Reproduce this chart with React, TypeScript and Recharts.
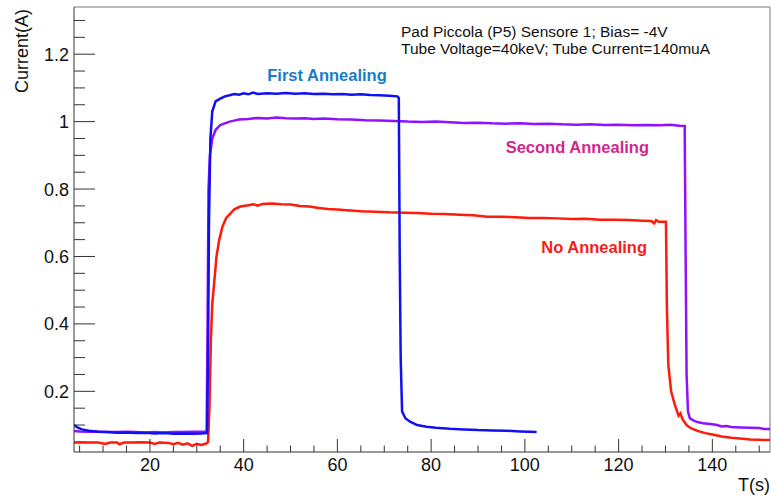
import { ComposedChart, Line, XAxis, YAxis, ReferenceLine } from 'recharts'

// [time (s), current (A)]
const firstAnnealing: [number, number][] = [
  [3.8, 0.1], [4.5, 0.093], [5.5, 0.087], [7, 0.083], [9, 0.08], [11, 0.079], [13, 0.077],
  [15, 0.078], [17, 0.076], [19, 0.077], [21, 0.075], [23, 0.076], [25, 0.074], [27, 0.075],
  [29, 0.074], [31, 0.075], [32.2, 0.076], [32.4, 0.3], [32.6, 0.7], [32.9, 0.95], [33.3, 1.03],
  [34, 1.06], [35, 1.068], [36, 1.075], [37, 1.078], [38, 1.082], [39, 1.08], [40, 1.084],
  [41, 1.081], [42, 1.086], [43, 1.082], [45, 1.084], [47, 1.083], [49, 1.085], [51, 1.083],
  [53, 1.084], [55, 1.082], [57, 1.083], [59, 1.081], [61, 1.082], [63, 1.08], [65, 1.081],
  [67, 1.079], [69, 1.078], [71, 1.077], [72.8, 1.075], [73.1, 1.07], [73.3, 0.6], [73.5, 0.3],
  [73.8, 0.14], [74.5, 0.12], [75.5, 0.11], [77, 0.1], [79, 0.095], [81, 0.092], [84, 0.089],
  [87, 0.087], [90, 0.085], [93, 0.084], [96, 0.083], [99, 0.081], [101, 0.08], [102.5, 0.079],
]

const secondAnnealing: [number, number][] = [
  [3.8, 0.082], [5, 0.081], [7, 0.08], [9, 0.08], [11, 0.079], [13, 0.079], [15, 0.08],
  [17, 0.079], [19, 0.078], [21, 0.079], [23, 0.078], [25, 0.079], [27, 0.079], [29, 0.08],
  [31, 0.08], [32.1, 0.081], [32.3, 0.4], [32.5, 0.8], [32.8, 0.9], [33.3, 0.95], [34, 0.975],
  [35, 0.99], [36, 0.995], [37, 1.0], [38, 1.003], [39, 1.006], [41, 1.008], [43, 1.011],
  [45, 1.009], [47, 1.012], [49, 1.01], [51, 1.009], [53, 1.01], [55, 1.008], [57, 1.009],
  [60, 1.007], [63, 1.006], [66, 1.004], [69, 1.003], [72, 1.002], [75, 1.0], [78, 0.999],
  [81, 1.0], [84, 0.998], [87, 0.996], [90, 0.997], [93, 0.995], [96, 0.994], [99, 0.995],
  [102, 0.993], [105, 0.994], [108, 0.992], [111, 0.991], [114, 0.992], [117, 0.99],
  [120, 0.991], [123, 0.989], [126, 0.99], [129, 0.989], [131, 0.991], [133, 0.988],
  [134.1, 0.987], [134.3, 0.6], [134.5, 0.25], [134.8, 0.14], [135.2, 0.12], [136, 0.113],
  [137, 0.108], [138, 0.105], [139, 0.104], [140, 0.102], [141, 0.1], [142, 0.096],
  [143, 0.097], [144, 0.094], [146, 0.093], [148, 0.092], [150, 0.091], [151, 0.088], [153, 0.088],
]

const noAnnealing: [number, number][] = [
  [3.8, 0.048], [5, 0.049], [7, 0.048], [9, 0.048], [10.5, 0.044], [11.5, 0.048], [13, 0.048],
  [13.5, 0.043], [14.5, 0.048], [16, 0.048], [18, 0.049], [20, 0.048], [21, 0.044], [22, 0.048],
  [24, 0.047], [25, 0.043], [26, 0.047], [27, 0.042], [28, 0.046], [29, 0.038], [30, 0.044],
  [31, 0.041], [32, 0.045], [32.4, 0.05], [32.7, 0.15], [33, 0.35], [33.3, 0.46], [33.7, 0.52],
  [34.2, 0.6], [34.8, 0.65], [35.5, 0.69], [36.3, 0.715], [37.2, 0.728], [38, 0.74],
  [39.3, 0.748], [41, 0.752], [42, 0.755], [43, 0.751], [44, 0.756], [46, 0.757], [48, 0.755],
  [50, 0.754], [52, 0.75], [54, 0.748], [56, 0.744], [58, 0.741], [60, 0.739], [62, 0.737],
  [65, 0.734], [68, 0.733], [71, 0.731], [74, 0.73], [77, 0.729], [80, 0.727], [83, 0.726],
  [86, 0.724], [89, 0.722], [92, 0.718], [95, 0.718], [98, 0.716], [101, 0.714], [104, 0.714],
  [107, 0.713], [110, 0.711], [113, 0.712], [116, 0.709], [119, 0.709], [122, 0.708],
  [125, 0.706], [127, 0.705], [127.6, 0.698], [128, 0.708], [128.5, 0.703], [130.1, 0.703],
  [130.3, 0.45], [130.6, 0.28], [131.2, 0.2], [132, 0.16], [132.8, 0.128], [133.2, 0.135],
  [133.6, 0.118], [134.5, 0.1], [135.5, 0.09], [137, 0.082], [138.5, 0.076], [140, 0.072],
  [142, 0.066], [144, 0.062], [146, 0.06], [148, 0.057], [150, 0.056], [153, 0.055],
]

const xDomain: [number, number] = [3.8, 152.3]
const yDomain: [number, number] = [0.02, 1.34]
const xTicks = [5, 10, 15, 20, 25, 30, 35, 40, 45, 50, 55, 60, 65, 70, 75, 80, 85, 90, 95, 100,
  105, 110, 115, 120, 125, 130, 135, 140, 145, 150]
const xLabels = [20, 40, 60, 80, 100, 120, 140]
const yTicks = [0.1, 0.15, 0.2, 0.25, 0.3, 0.35, 0.4, 0.45, 0.5, 0.55, 0.6, 0.65, 0.7, 0.75,
  0.8, 0.85, 0.9, 0.95, 1, 1.05, 1.1, 1.15, 1.2, 1.25, 1.3]
const yLabels = [0.2, 0.4, 0.6, 0.8, 1, 1.2]

const FONT = '"Liberation Sans", Arial, Helvetica, sans-serif'
const AXIS = '#333'
const FRAME = '#777'

const toPoints = (rows: [number, number][]) => rows.map(([t, v]) => ({ t, v }))

const isLabel = (list: number[], v: number) => list.some((l) => Math.abs(l - v) < 1e-6)

function XTick(props: any) {
  const { x, y, payload } = props
  const major = isLabel(xLabels, payload.value)
  return (
    <g>
      <line x1={x} x2={x} y1={y} y2={y - (major ? 13 : 6.5)} stroke={AXIS} strokeWidth={1} />
      {major && (
        <text x={x} y={y + 19} textAnchor="middle" fontSize={18} fontFamily={FONT} fill="#111">
          {payload.value}
        </text>
      )}
    </g>
  )
}

function YTick(props: any) {
  const { x, y, payload } = props
  const major = isLabel(yLabels, payload.value)
  return (
    <g>
      <line x1={x} x2={x + (major ? 21 : 11)} y1={y} y2={y} stroke={AXIS} strokeWidth={1} />
      {major && (
        <text x={x - 5} y={y + 6.5} textAnchor="end" fontSize={18} fontFamily={FONT} fill="#111">
          {String(payload.value)}
        </text>
      )}
    </g>
  )
}

export default function App() {
  return (
    <div style={{ position: 'absolute', left: 0, top: 0, width: 771, height: 495, background: '#fff' }}>
      <ComposedChart width={771} height={495} margin={{ top: 7, right: 1, bottom: 0, left: 0 }}>
        <XAxis
          dataKey="t"
          type="number"
          domain={xDomain}
          ticks={xTicks}
          interval={0}
          height={43}
          tickSize={0}
          tickMargin={0}
          tick={<XTick />}
          stroke={AXIS}
          allowDataOverflow
        />
        <YAxis
          dataKey="v"
          type="number"
          domain={yDomain}
          ticks={yTicks}
          interval={0}
          width={74}
          tickSize={0}
          tickMargin={0}
          tick={<YTick />}
          stroke={AXIS}
          allowDataOverflow
        />
        {/* top and right frame of the pad */}
        <ReferenceLine y={yDomain[1]} stroke={FRAME} strokeWidth={1} ifOverflow="visible" />
        <ReferenceLine x={xDomain[1]} stroke={FRAME} strokeWidth={1} ifOverflow="visible" />
        <Line data={toPoints(noAnnealing)} dataKey="v" stroke="#ff1a0a" strokeWidth={2.5} dot={false} isAnimationActive={false} />
        <Line data={toPoints(secondAnnealing)} dataKey="v" stroke="#9010ff" strokeWidth={2.5} dot={false} isAnimationActive={false} />
        <Line data={toPoints(firstAnnealing)} dataKey="v" stroke="#1010f0" strokeWidth={2.5} dot={false} isAnimationActive={false} />
      </ComposedChart>
      <svg width={771} height={495} style={{ position: 'absolute', left: 0, top: 0, pointerEvents: 'none' }}>
        <g fontFamily={FONT}>
          <text x={401} y={37} fontSize={15.5} fill="#111">Pad Piccola (P5) Sensore 1; Bias= -4V</text>
          <text x={401} y={54} fontSize={15.5} fill="#111">Tube Voltage=40keV; Tube Current=140muA</text>
          <text x={327} y={81} fontSize={16.5} fontWeight="bold" textAnchor="middle" fill="#1b7cc6">First Annealing</text>
          <text x={649} y={153} fontSize={16.5} fontWeight="bold" textAnchor="end" fill="#d0288a">Second Annealing</text>
          <text x={647} y={253} fontSize={16.5} fontWeight="bold" textAnchor="end" fill="#f51e14">No Annealing</text>
          <text x={770} y={491} fontSize={18} textAnchor="end" fill="#111">T(s)</text>
          <text transform="translate(28, 51) rotate(-90)" fontSize={18} textAnchor="middle" fill="#111">Current(A)</text>
        </g>
      </svg>
    </div>
  )
}
